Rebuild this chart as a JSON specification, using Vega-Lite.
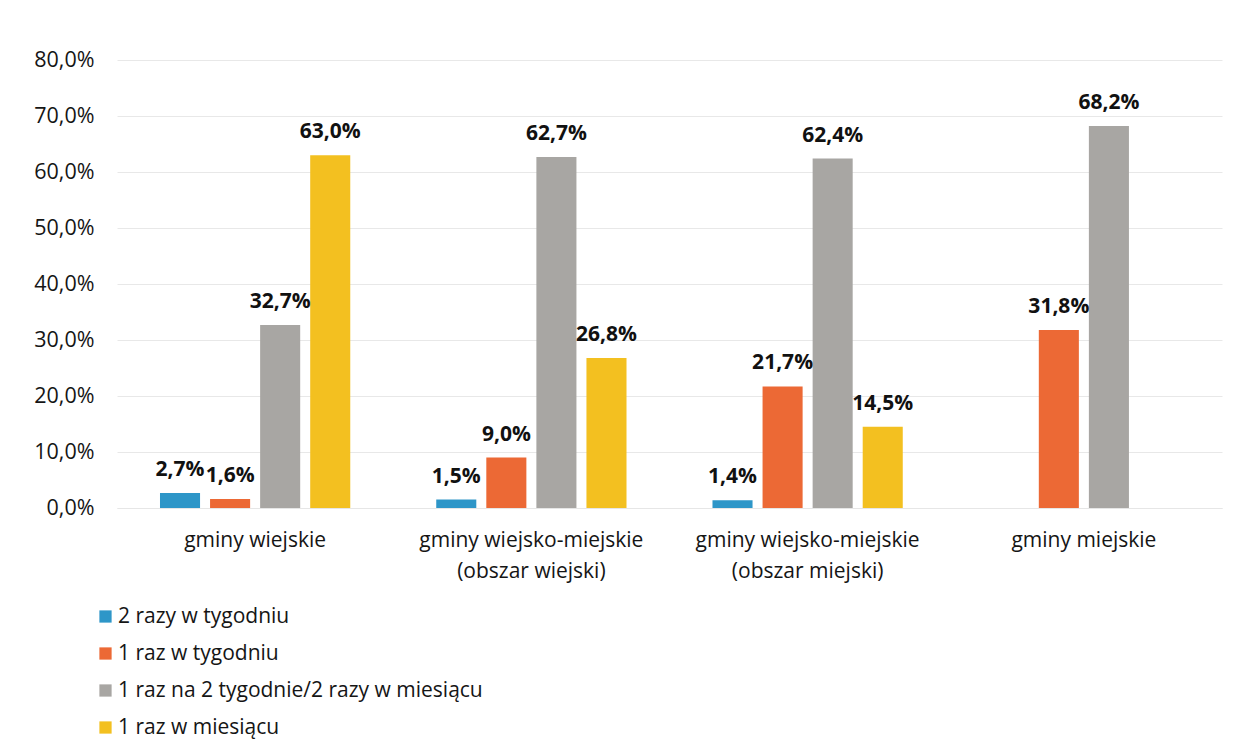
{
  "$schema": "https://vega.github.io/schema/vega-lite/v6.json",
  "width": 1105,
  "height": 448,
  "autosize": "none",
  "padding": {"left": 117, "top": 60, "right": 18, "bottom": 245},
  "background": "white",
  "config": {
    "locale": {"number": {"decimal": ",", "thousands": " ", "grouping": [3], "currency": ["", " zł"]}},
    "view": {"stroke": null},
    "font": "Open Sans"
  },
  "data": {
    "values": [
      {"gmina": "gminy wiejskie", "czestotliwosc": "2 razy w tygodniu", "wartosc": 0.027},
      {"gmina": "gminy wiejskie", "czestotliwosc": "1 raz w tygodniu", "wartosc": 0.016},
      {"gmina": "gminy wiejskie", "czestotliwosc": "1 raz na 2 tygodnie/2 razy w miesiącu", "wartosc": 0.327},
      {"gmina": "gminy wiejskie", "czestotliwosc": "1 raz w miesiącu", "wartosc": 0.630},
      {"gmina": "gminy wiejsko-miejskie|(obszar wiejski)", "czestotliwosc": "2 razy w tygodniu", "wartosc": 0.015},
      {"gmina": "gminy wiejsko-miejskie|(obszar wiejski)", "czestotliwosc": "1 raz w tygodniu", "wartosc": 0.090},
      {"gmina": "gminy wiejsko-miejskie|(obszar wiejski)", "czestotliwosc": "1 raz na 2 tygodnie/2 razy w miesiącu", "wartosc": 0.627},
      {"gmina": "gminy wiejsko-miejskie|(obszar wiejski)", "czestotliwosc": "1 raz w miesiącu", "wartosc": 0.268},
      {"gmina": "gminy wiejsko-miejskie|(obszar miejski)", "czestotliwosc": "2 razy w tygodniu", "wartosc": 0.014},
      {"gmina": "gminy wiejsko-miejskie|(obszar miejski)", "czestotliwosc": "1 raz w tygodniu", "wartosc": 0.217},
      {"gmina": "gminy wiejsko-miejskie|(obszar miejski)", "czestotliwosc": "1 raz na 2 tygodnie/2 razy w miesiącu", "wartosc": 0.624},
      {"gmina": "gminy wiejsko-miejskie|(obszar miejski)", "czestotliwosc": "1 raz w miesiącu", "wartosc": 0.145},
      {"gmina": "gminy miejskie", "czestotliwosc": "1 raz w tygodniu", "wartosc": 0.318},
      {"gmina": "gminy miejskie", "czestotliwosc": "1 raz na 2 tygodnie/2 razy w miesiącu", "wartosc": 0.682}
    ]
  },
  "encoding": {
    "x": {
      "field": "gmina",
      "type": "nominal",
      "sort": null,
      "scale": {"paddingInner": 0.275, "paddingOuter": 0.1375},
      "axis": {
        "title": null,
        "labelAngle": 0,
        "labelExpr": "split(datum.label, '|')",
        "labelFontSize": 21,
        "labelColor": "#151515",
        "labelPadding": 32,
        "labelLineHeight": 31,
        "labelBaseline": "middle",
        "labelLimit": 400,
        "ticks": false,
        "domain": true,
        "domainColor": "#E6E6E6",
        "grid": false
      }
    },
    "xOffset": {
      "field": "czestotliwosc",
      "type": "nominal",
      "sort": ["2 razy w tygodniu", "1 raz w tygodniu", "1 raz na 2 tygodnie/2 razy w miesiącu", "1 raz w miesiącu"],
      "scale": {"paddingInner": 0.2, "paddingOuter": 0.1}
    },
    "y": {
      "field": "wartosc",
      "type": "quantitative",
      "scale": {"domain": [0, 0.8], "nice": false},
      "axis": {
        "title": null,
        "format": ".1%",
        "values": [0, 0.1, 0.2, 0.3, 0.4, 0.5, 0.6, 0.7, 0.8],
        "labelFontSize": 21.5,
        "labelColor": "#151515",
        "labelPadding": 23,
        "ticks": false,
        "domain": false,
        "gridColor": "#E8E8E8",
        "gridWidth": 1
      }
    }
  },
  "layer": [
    {
      "mark": {"type": "bar"},
      "encoding": {
        "color": {
          "field": "czestotliwosc",
          "type": "nominal",
          "sort": ["2 razy w tygodniu", "1 raz w tygodniu", "1 raz na 2 tygodnie/2 razy w miesiącu", "1 raz w miesiącu"],
          "scale": {
            "domain": ["2 razy w tygodniu", "1 raz w tygodniu", "1 raz na 2 tygodnie/2 razy w miesiącu", "1 raz w miesiącu"],
            "range": ["#2E96C8", "#EC6935", "#A8A6A3", "#F3C020"]
          },
          "legend": {
            "title": null,
            "orient": "none",
            "legendX": -22,
            "legendY": 546,
            "direction": "vertical",
            "symbolType": "square",
            "symbolSize": 150,
            "symbolStrokeWidth": 0,
            "labelFontSize": 21,
            "labelColor": "#151515",
            "labelOffset": 2,
            "rowPadding": 15,
            "labelLimit": 600
          }
        }
      }
    },
    {
      "mark": {"type": "text", "fontWeight": "bold", "fontSize": 21, "baseline": "alphabetic", "dy": -17, "color": "#111111"},
      "encoding": {
        "text": {"field": "wartosc", "type": "quantitative", "format": ".1%"}
      }
    }
  ]
}
